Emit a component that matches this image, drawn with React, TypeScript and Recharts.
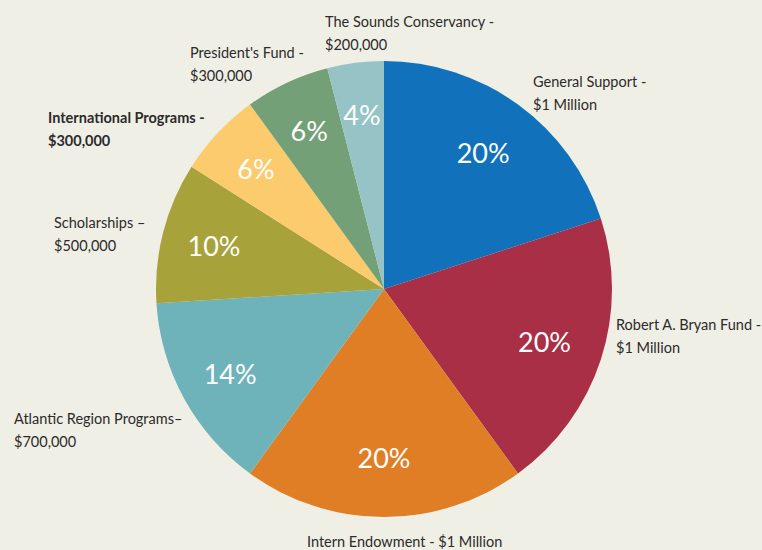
import React from 'react';
import { PieChart, Pie, Cell } from 'recharts';

const funds = [
  'General Support',
  'Robert A. Bryan Fund',
  'Intern Endowment',
  'Atlantic Region Programs',
  'Scholarships',
  'International Programs',
  "President's Fund",
  'The Sounds Conservancy',
];
const amounts = [1000000, 1000000, 1000000, 700000, 500000, 300000, 300000, 200000];
const amountLabels = ['$1 Million', '$1 Million', '$1 Million', '$700,000', '$500,000', '$300,000', '$300,000', '$200,000'];
const separators = [' -', ' -', ' - ', '–', ' –', ' -', ' -', ' -'];
const colors = ['#1172bb', '#a82f45', '#e07e26', '#6fb3ba', '#a7a23a', '#fccb6e', '#74a078', '#95c3c6'];

// where each name label sits (left x, first baseline y); intern label on one line
const namePos = [
  { x: 533, y: 87, oneLine: false },
  { x: 616, y: 330, oneLine: false },
  { x: 307, y: 547, oneLine: true },
  { x: 14, y: 424, oneLine: false },
  { x: 54, y: 228, oneLine: false },
  { x: 48, y: 123, oneLine: false, bold: true },
  { x: 190, y: 58, oneLine: false },
  { x: 325, y: 27, oneLine: false },
];

const total = amounts.reduce((a, b) => a + b, 0);
const data = funds.map((name, i) => ({ name, value: amounts[i] }));

const RAD = Math.PI / 180;

const renderLabel = (props: any) => {
  const { cx, cy, midAngle, outerRadius, index, value } = props;
  const r = outerRadius * (value >= 1000000 ? 0.74 : 0.77);
  const px = cx + r * Math.cos(-midAngle * RAD);
  const py = cy + r * Math.sin(-midAngle * RAD);
  const pct = Math.round((value / total) * 100) + '%';
  const pos = namePos[index];
  const textStyle = {
    fontFamily: 'Lato, "Open Sans", sans-serif',
    fontSize: 14.5,
    fill: '#2b2b2b',
    fontWeight: pos.bold ? 700 : 400,
  };
  return (
    <g>
      <text
        x={px}
        y={py}
        textAnchor="middle"
        dominantBaseline="central"
        fill="#ffffff"
        style={{ fontFamily: 'Lato, "Open Sans", sans-serif', fontSize: 27 }}
      >
        {pct}
      </text>
      {pos.oneLine ? (
        <text x={pos.x} y={pos.y} style={textStyle}>
          {funds[index] + separators[index] + amountLabels[index]}
        </text>
      ) : (
        <text x={pos.x} y={pos.y} style={textStyle}>
          <tspan x={pos.x}>{funds[index] + separators[index]}</tspan>
          <tspan x={pos.x} dy={23}>{amountLabels[index]}</tspan>
        </text>
      )}
    </g>
  );
};

export default function App() {
  return (
    <div style={{ position: 'absolute', left: 0, top: 0, width: 762, height: 550, background: '#f0efe5' }}>
      <PieChart width={762} height={550} margin={{ top: 0, right: 0, bottom: 0, left: 0 }}>
        <Pie
          data={data}
          dataKey="value"
          nameKey="name"
          cx={384}
          cy={289}
          outerRadius={228}
          startAngle={90}
          endAngle={-270}
          stroke="none"
          labelLine={false}
          label={renderLabel}
          isAnimationActive={false}
        >
          {data.map((d, i) => (
            <Cell key={d.name} fill={colors[i]} />
          ))}
        </Pie>
      </PieChart>
    </div>
  );
}
